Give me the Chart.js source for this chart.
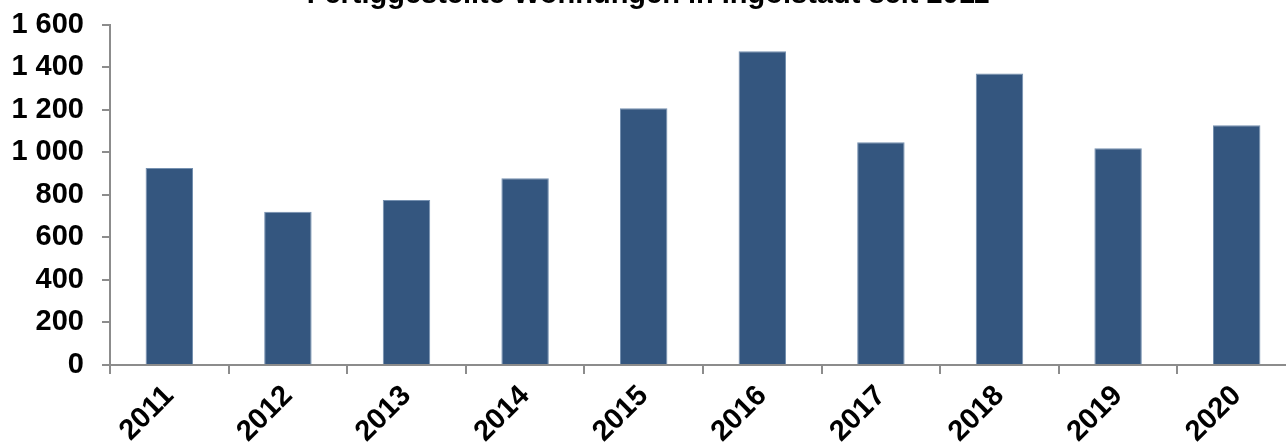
<!DOCTYPE html>
<html>
<head>
<meta charset="utf-8">
<script src="https://cdn.jsdelivr.net/npm/chart.js@4/dist/chart.umd.min.js"></script>
<style>
  html, body { margin: 0; padding: 0; background: #fff; overflow: hidden; width: 1286px; height: 446px; }
  #wrap { position: absolute; left: 0; top: -22px; width: 1296px; height: 500px; }
</style>
</head>
<body>
<div id="wrap"><canvas id="chart"></canvas></div>
<script>
const years = ["2011", "2012", "2013", "2014", "2015", "2016", "2017", "2018", "2019", "2020"];
const completed = [926, 721, 776, 878, 1207, 1476, 1048, 1371, 1019, 1127];
const yTicks = [0, 200, 400, 600, 800, 1000, 1200, 1400, 1600];

const axisGray = "#8c8c8c";
const fnt = "'Liberation Sans', Arial, sans-serif";

// thousands with a space, like "1 600"
const fmt = v => String(v).replace(/\B(?=(\d{3})+(?!\d))/g, " ");

new Chart(document.getElementById("chart"), {
  type: "bar",
  data: {
    labels: years,
    datasets: [{
      label: "Fertiggestellte Wohnungen",
      data: completed,
      backgroundColor: "#34567f",
      borderColor: "#7590b0",
      borderWidth: 1,
      barPercentage: 0.40,
      categoryPercentage: 1
    }]
  },
  options: {
    responsive: true,
    maintainAspectRatio: false,
    animation: false,
    layout: { padding: 0 },
    plugins: {
      legend: { display: false },
      tooltip: { enabled: false },
      title: {
        display: true,
        text: "Fertiggestellte Wohnungen in Ingolstadt seit 2011",
        color: "#000",
        font: { family: fnt, size: 29, weight: "bold" },
        padding: { top: 0, bottom: 12 }
      }
    },
    scales: {
      x: {
        grid: { display: true, drawOnChartArea: false, color: axisGray, lineWidth: 2, tickLength: 9, offset: true },
        border: { display: true, color: axisGray, width: 2 },
        ticks: {
          color: "#000",
          font: { family: fnt, size: 29, weight: "bold" },
          minRotation: 45,
          maxRotation: 45,
          padding: 5
        },
        afterFit: s => { s.height = 113; }
      },
      y: {
        min: 0,
        max: 1600,
        afterBuildTicks: s => { s.ticks = yTicks.map(v => ({ value: v })); },
        grid: { display: true, drawOnChartArea: false, color: axisGray, lineWidth: 2, tickLength: 8 },
        border: { display: true, color: axisGray, width: 2 },
        ticks: {
          color: "#000",
          font: { family: fnt, size: 29, weight: "bold" },
          padding: 18,
          callback: v => fmt(v)
        },
        afterFit: s => { s.width = 110; }
      }
    }
  }
});
</script>
</body>
</html>
